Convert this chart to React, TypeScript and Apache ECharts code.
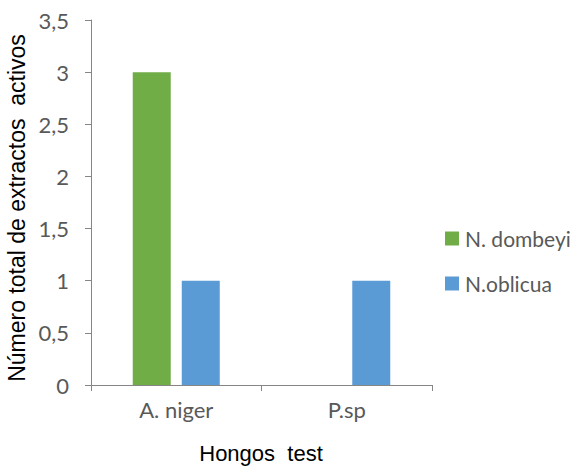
import React, { useEffect, useRef } from "react";
import * as echarts from "echarts";

const categories = ["A. niger", "P.sp"];
const dombeyiValues = [3, 0];
const oblicuaValues = [1, 1];
const seriesNames = ["N. dombeyi", "N.oblicua"];
const yTitle = "Número total de extractos  activos";
const xTitle = "Hongos  test";

export default function App() {
  const ref = useRef<HTMLDivElement>(null);
  useEffect(() => {
    if (!ref.current) return;
    const chart = echarts.init(ref.current, undefined, { renderer: "svg" });
    const gray = "#595959";
    const axisColor = "#868686";
    const labelFont = "Lato, 'Liberation Sans', sans-serif";
    const titleFont = "'Liberation Sans', Arial, sans-serif";
    chart.setOption({
      animation: false,
      backgroundColor: "#ffffff",
      grid: { left: 91, right: 142, top: 20, bottom: 81, containLabel: false },
      legend: {
        orient: "vertical",
        left: 440,
        top: 223,
        itemWidth: 14,
        itemHeight: 14,
        itemGap: 24,
        icon: "rect",
        data: seriesNames,
        textStyle: { color: gray, fontSize: 21, fontFamily: labelFont, padding: [0, 0, 0, 1] },
      },
      xAxis: {
        type: "category",
        data: categories,
        boundaryGap: true,
        axisLine: { show: true, lineStyle: { color: axisColor, width: 1 } },
        axisTick: { show: true, alignWithLabel: false, length: 6, lineStyle: { color: axisColor } },
        axisLabel: { color: gray, fontSize: 22, fontFamily: labelFont, margin: 13 },
        splitLine: { show: false },
      },
      yAxis: {
        type: "value",
        min: 0,
        max: 3.5,
        interval: 0.5,
        axisLine: { show: true, lineStyle: { color: axisColor, width: 1 } },
        axisTick: { show: true, length: 6, lineStyle: { color: axisColor } },
        axisLabel: {
          color: gray,
          fontSize: 22,
          fontFamily: labelFont,
          margin: 22,
          formatter: (v: number) => String(v).replace(".", ","),
        },
        splitLine: { show: false },
      },
      series: [
        {
          name: seriesNames[0],
          type: "bar",
          data: dombeyiValues,
          barWidth: 38,
          barGap: "29%",
          itemStyle: { color: "#70AD47" },
        },
        {
          name: seriesNames[1],
          type: "bar",
          data: oblicuaValues,
          barWidth: 38,
          itemStyle: { color: "#5B9BD5" },
        },
      ],
      graphic: [
        {
          type: "text",
          x: 17,
          y: 208,
          rotation: Math.PI / 2,
          style: {
            text: yTitle,
            fill: "#000000",
            fontSize: 23,
            fontFamily: titleFont,
            textAlign: "center",
            textVerticalAlign: "middle",
          },
        },
        {
          type: "text",
          x: 261,
          y: 453,
          style: {
            text: xTitle,
            fill: "#000000",
            fontSize: 22,
            fontFamily: titleFont,
            textAlign: "center",
            textVerticalAlign: "middle",
          },
        },
      ],
    });
    return () => chart.dispose();
  }, []);
  return (
    <div
      ref={ref}
      style={{ position: "fixed", left: 0, top: 0, width: 574, height: 466, background: "#fff" }}
    />
  );
}
